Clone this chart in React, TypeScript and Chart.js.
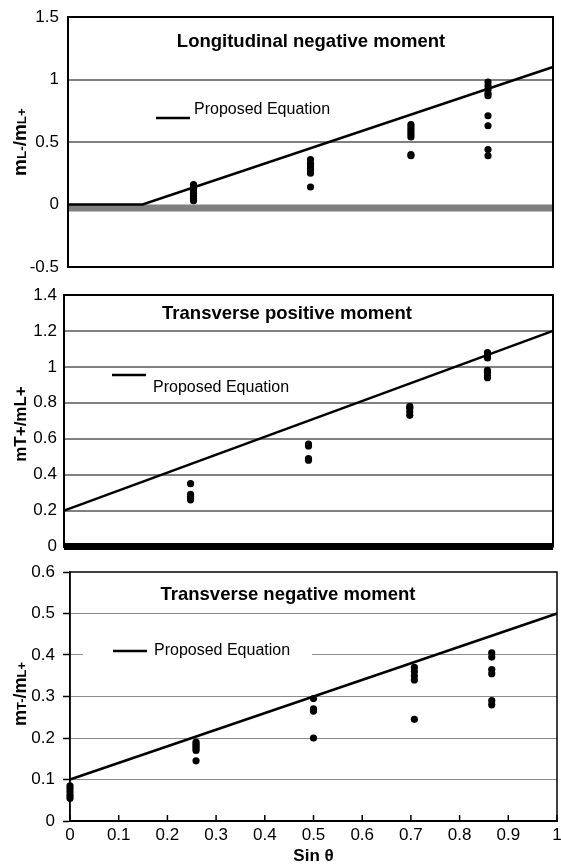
import React, { useEffect, useRef } from "react";
import { Chart, registerables } from "chart.js";
Chart.register(...registerables);

const FONT = '"Liberation Sans", Arial, Helvetica, sans-serif';

// ---------- Panel 1: Longitudinal negative moment ----------
const p1Title = "Longitudinal negative moment";
const p1SinTheta = [0.2588, 0.5, 0.7071, 0.866];
const p1Values = [
  [0.03, 0.05, 0.07, 0.09, 0.11, 0.13, 0.15, 0.16],
  [0.14, 0.25, 0.27, 0.29, 0.31, 0.33, 0.36],
  [0.39, 0.4, 0.54, 0.56, 0.58, 0.6, 0.62, 0.64],
  [0.39, 0.44, 0.63, 0.71, 0.87, 0.89, 0.92, 0.95, 0.98],
];
const p1EqX = [0, 0.1538, 1];
const p1EqY = [0, 0, 1.1];
const p1YTicks = [-0.5, 0, 0.5, 1, 1.5];
const p1YLabels = ["-0.5", "0", "0.5", "1", "1.5"];

// ---------- Panel 2: Transverse positive moment ----------
const p2Title = "Transverse positive moment";
const p2SinTheta = [0.2588, 0.5, 0.7071, 0.866];
const p2Values = [
  [0.26, 0.27, 0.28, 0.29, 0.35],
  [0.48, 0.49, 0.56, 0.57],
  [0.73, 0.75, 0.77, 0.78],
  [0.94, 0.95, 0.97, 0.98, 1.05, 1.06, 1.08],
];
const p2EqX = [0, 1];
const p2EqY = [0.2, 1.2];
const p2YTicks = [0, 0.2, 0.4, 0.6, 0.8, 1, 1.2, 1.4];
const p2YLabels = ["0", "0.2", "0.4", "0.6", "0.8", "1", "1.2", "1.4"];

// ---------- Panel 3: Transverse negative moment ----------
const p3Title = "Transverse negative moment";
const p3SinTheta = [0, 0.2588, 0.5, 0.7071, 0.866];
const p3Values = [
  [0.055, 0.062, 0.07, 0.078, 0.085],
  [0.145, 0.17, 0.175, 0.18, 0.185, 0.19],
  [0.2, 0.265, 0.27, 0.295],
  [0.245, 0.34, 0.35, 0.36, 0.37],
  [0.28, 0.29, 0.355, 0.365, 0.395, 0.405],
];
const p3EqX = [0, 1];
const p3EqY = [0.1, 0.5];
const p3YTicks = [0, 0.1, 0.2, 0.3, 0.4, 0.5, 0.6];
const p3YLabels = ["0", "0.1", "0.2", "0.3", "0.4", "0.5", "0.6"];
const xTicks = [0, 0.1, 0.2, 0.3, 0.4, 0.5, 0.6, 0.7, 0.8, 0.9, 1];
const xLabels = ["0", "0.1", "0.2", "0.3", "0.4", "0.5", "0.6", "0.7", "0.8", "0.9", "1"];
const xTitle = "Sin θ";
const legendLabel = "Proposed Equation";

type Part = { t: string; small?: boolean };

function flatten(xs: number[], ys: number[][]) {
  const out: { x: number; y: number }[] = [];
  xs.forEach((x, i) => ys[i].forEach((y) => out.push({ x, y })));
  return out;
}
function pairs(xs: number[], ys: number[]) {
  return xs.map((x, i) => ({ x, y: ys[i] }));
}

interface PanelCfg {
  top: number;
  height: number;
  left: number;
  right: number;
  plotTop: number;
  plotBottom: number;
  yMin: number;
  yMax: number;
  yTicks: number[];
  yLabels: string[];
  labelPad: number;
  grayGrid: number[];
  gridWidth: number;
  gridColor: string;
  zeroBand?: { color: string; width: number; centered: boolean };
  boxWidth: number;
  title: string;
  titleX: number;
  titleY: number;
  yTitle: Part[];
  yTitleBig: number;
  yTitleSmall: number;
  yTitleX: number;
  yTitleY: number;
  legend: { x1: number; x2: number; ly: number; tx: number; ty: number; box?: [number, number, number, number] };
  points: { x: number; y: number }[];
  eq: { x: number; y: number }[];
  showX: boolean;
}

function Panel({ cfg }: { cfg: PanelCfg }) {
  const ref = useRef<HTMLCanvasElement | null>(null);
  useEffect(() => {
    const canvas = ref.current!;
    const decor = {
      id: "decor",
      beforeDatasetsDraw(chart: any) {
        const ctx = chart.ctx;
        const { left, right } = chart.chartArea;
        const ys = chart.scales.y;
        if (cfg.zeroBand) {
          const y0 = ys.getPixelForValue(0);
          ctx.save();
          ctx.fillStyle = cfg.zeroBand.color;
          const w = cfg.zeroBand.width;
          ctx.fillRect(left, cfg.zeroBand.centered ? y0 - w / 2 : y0, right - left, w);
          ctx.restore();
        }
      },
      afterDatasetsDraw(chart: any) {
        const ctx = chart.ctx;
        const { left, right, top, bottom } = chart.chartArea;
        ctx.save();
        ctx.strokeStyle = "#000";
        ctx.lineWidth = cfg.boxWidth;
        ctx.strokeRect(left, top, right - left, bottom - top);
        if (cfg.showX) {
          const xs = chart.scales.x;
          ctx.lineWidth = 1.5;
          xs.ticks.forEach((t: any) => {
            const px = xs.getPixelForValue(t.value);
            ctx.beginPath();
            ctx.moveTo(px, bottom);
            ctx.lineTo(px, bottom - 6);
            ctx.stroke();
          });
        }
        ctx.fillStyle = "#000";
        ctx.font = `bold 18.5px ${FONT}`;
        ctx.textAlign = "center";
        ctx.textBaseline = "middle";
        ctx.fillText(cfg.title, cfg.titleX, cfg.titleY);
        const lg = cfg.legend;
        if (lg.box) {
          ctx.fillStyle = "#fff";
          ctx.fillRect(lg.box[0], lg.box[1], lg.box[2], lg.box[3]);
        }
        ctx.strokeStyle = "#000";
        ctx.lineWidth = 2.5;
        ctx.beginPath();
        ctx.moveTo(lg.x1, lg.ly);
        ctx.lineTo(lg.x2, lg.ly);
        ctx.stroke();
        ctx.fillStyle = "#000";
        ctx.font = `16px ${FONT}`;
        ctx.textAlign = "left";
        ctx.textBaseline = "middle";
        ctx.fillText(legendLabel, lg.tx, lg.ty);
        ctx.translate(cfg.yTitleX, cfg.yTitleY);
        ctx.rotate(-Math.PI / 2);
        const fonts = cfg.yTitle.map((p) =>
          p.small ? `bold ${cfg.yTitleSmall}px ${FONT}` : `bold ${cfg.yTitleBig}px ${FONT}`
        );
        let total = 0;
        const widths = cfg.yTitle.map((p, i) => {
          ctx.font = fonts[i];
          const w = ctx.measureText(p.t).width;
          total += w;
          return w;
        });
        let x = -total / 2;
        ctx.textAlign = "left";
        ctx.textBaseline = "alphabetic";
        cfg.yTitle.forEach((p, i) => {
          ctx.font = fonts[i];
          ctx.fillText(p.t, x, 6);
          x += widths[i];
        });
        ctx.restore();
      },
    };

    const W = 561;
    const chart = new Chart(canvas, {
      type: "scatter",
      data: {
        datasets: [
          {
            data: cfg.eq,
            showLine: true,
            borderColor: "#000",
            borderWidth: 2.5,
            pointRadius: 0,
            clip: false as any,
          },
          {
            data: cfg.points,
            backgroundColor: "#000",
            borderColor: "#000",
            pointRadius: 3.6,
            borderWidth: 0,
            clip: false as any,
          },
        ],
      },
      options: {
        animation: false,
        responsive: false,
        devicePixelRatio: 1,
        layout: {
          padding: {
            left: 0,
            right: W - cfg.right,
            top: cfg.plotTop,
            bottom: cfg.showX ? 0 : cfg.height - cfg.plotBottom,
          },
        },
        plugins: { legend: { display: false }, tooltip: { enabled: false }, title: { display: false } },
        scales: {
          x: {
            type: "linear",
            min: 0,
            max: 1,
            display: cfg.showX,
            afterBuildTicks: (s: any) => {
              s.ticks = xTicks.map((v) => ({ value: v }));
            },
            afterFit: (s: any) => {
              if (cfg.showX) s.height = cfg.height - cfg.plotBottom;
              s.paddingLeft = 0;
              s.paddingRight = 0;
            },
            ticks: {
              color: "#000",
              font: { family: FONT, size: 17 },
              padding: 4,
              maxRotation: 0,
              autoSkip: false,
              callback: (_v: any, i: number) => xLabels[i],
            },
            grid: { display: false, drawTicks: false },
            border: { display: true, color: "#000", width: 2 },
            title: {
              display: true,
              text: xTitle,
              color: "#000",
              font: { family: FONT, size: 17, weight: "bold" },
              padding: { top: 0, bottom: 0 },
            },
          },
          y: {
            type: "linear",
            min: cfg.yMin,
            max: cfg.yMax,
            afterBuildTicks: (s: any) => {
              s.ticks = cfg.yTicks.map((v) => ({ value: v }));
            },
            afterFit: (s: any) => {
              s.width = cfg.left;
              s.paddingTop = 0;
              s.paddingBottom = 0;
            },
            ticks: {
              color: "#000",
              font: { family: FONT, size: 17 },
              padding: cfg.labelPad,
              autoSkip: false,
              callback: (_v: any, i: number) => cfg.yLabels[i],
            },
            grid: {
              drawTicks: cfg.showX,
              tickLength: 7,
              tickColor: "#000",
              tickWidth: 1.5,
              color: (c: any) =>
                cfg.grayGrid.some((g) => Math.abs(g - c.tick.value) < 1e-9) ? cfg.gridColor : "rgba(0,0,0,0)",
              lineWidth: cfg.gridWidth,
            },
            border: { display: true, color: "#000", width: cfg.boxWidth },
          },
        },
      },
      plugins: [decor],
    } as any);
    return () => chart.destroy();
  }, [cfg]);
  return (
    <canvas
      ref={ref}
      width={561}
      height={cfg.height}
      style={{ position: "absolute", left: 0, top: cfg.top, width: 561, height: cfg.height }}
    />
  );
}

const panels: PanelCfg[] = [
  {
    top: 0,
    height: 280,
    left: 68,
    right: 553,
    plotTop: 17,
    plotBottom: 267,
    yMin: -0.5,
    yMax: 1.5,
    yTicks: p1YTicks,
    yLabels: p1YLabels,
    labelPad: 9,
    grayGrid: [0.5, 1],
    gridWidth: 2,
    gridColor: "#808080",
    zeroBand: { color: "#808080", width: 7, centered: false },
    boxWidth: 2,
    title: p1Title,
    titleX: 311,
    titleY: 42,
    yTitle: [{ t: "m" }, { t: "L-", small: true }, { t: "/m" }, { t: "L+", small: true }],
    yTitleBig: 19,
    yTitleSmall: 13.5,
    yTitleX: 20,
    yTitleY: 142,
    legend: { x1: 156, x2: 190, ly: 118, tx: 194, ty: 110 },
    points: flatten(p1SinTheta, p1Values),
    eq: pairs(p1EqX, p1EqY),
    showX: false,
  },
  {
    top: 280,
    height: 280,
    left: 64,
    right: 553,
    plotTop: 15,
    plotBottom: 266.5,
    yMin: 0,
    yMax: 1.4,
    yTicks: p2YTicks,
    yLabels: p2YLabels,
    labelPad: 7,
    grayGrid: [0.2, 0.4, 0.6, 0.8, 1, 1.2],
    gridWidth: 2,
    gridColor: "#808080",
    zeroBand: { color: "#000", width: 7, centered: true },
    boxWidth: 2,
    title: p2Title,
    titleX: 287,
    titleY: 34,
    yTitle: [{ t: "mT+/mL+" }],
    yTitleBig: 17,
    yTitleSmall: 12,
    yTitleX: 20,
    yTitleY: 144,
    legend: { x1: 112, x2: 146, ly: 95, tx: 153, ty: 108 },
    points: flatten(p2SinTheta, p2Values),
    eq: pairs(p2EqX, p2EqY),
    showX: false,
  },
  {
    top: 560,
    height: 307,
    left: 70,
    right: 558,
    plotTop: 12,
    plotBottom: 261,
    yMin: 0,
    yMax: 0.6,
    yTicks: p3YTicks,
    yLabels: p3YLabels,
    labelPad: 8,
    grayGrid: [0.1, 0.2, 0.3, 0.4, 0.5],
    gridWidth: 1,
    gridColor: "#8c8c8c",
    boxWidth: 1.5,
    title: p3Title,
    titleX: 288,
    titleY: 35,
    yTitle: [{ t: "m" }, { t: "T-", small: true }, { t: "/m" }, { t: "L+", small: true }],
    yTitleBig: 18,
    yTitleSmall: 13,
    yTitleX: 20,
    yTitleY: 134,
    legend: { x1: 113, x2: 147, ly: 91, tx: 154, ty: 91, box: [83, 80, 229, 22] },
    points: flatten(p3SinTheta, p3Values),
    eq: pairs(p3EqX, p3EqY),
    showX: true,
  },
];

export default function App() {
  return (
    <div style={{ position: "absolute", left: 0, top: 0, width: 561, height: 867, overflow: "hidden", background: "#fff" }}>
      {panels.map((p, i) => (
        <Panel key={i} cfg={p} />
      ))}
    </div>
  );
}
